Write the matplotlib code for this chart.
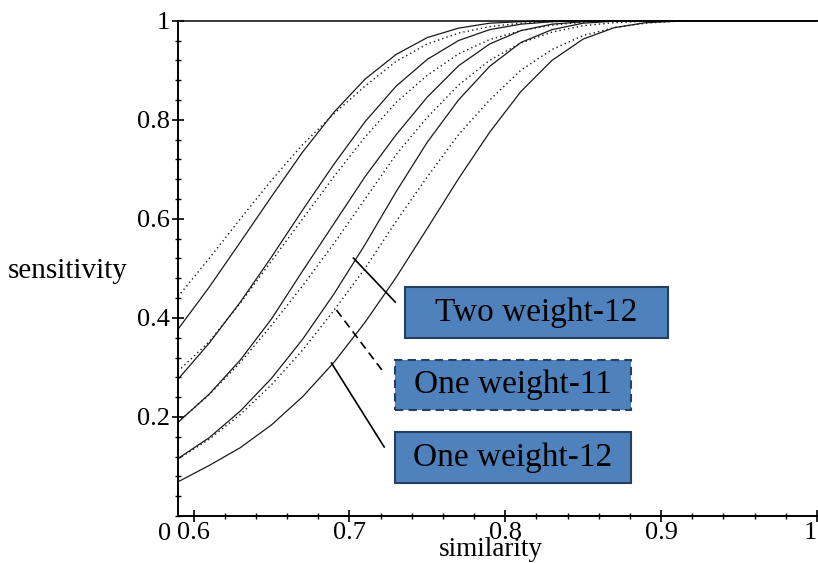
import matplotlib
matplotlib.use("Agg")
import matplotlib.pyplot as plt
from matplotlib.ticker import MultipleLocator
from matplotlib.patches import Rectangle

# valeurs (similarity -> sensitivity)
similarity = [0.59, 0.61, 0.63, 0.65, 0.67, 0.69, 0.71, 0.73, 0.75, 0.77,
              0.79, 0.81, 0.83, 0.85, 0.87, 0.89, 0.91, 0.93, 1.0]

solid_1 = [0.377, 0.462, 0.553, 0.645, 0.735, 0.815, 0.882, 0.932, 0.966, 0.985,
           0.995, 0.998, 1.0, 1.0, 1.0, 1.0, 1.0, 1.0, 1.0]
solid_2 = [0.276, 0.349, 0.432, 0.523, 0.618, 0.710, 0.796, 0.868, 0.922, 0.960,
           0.982, 0.993, 0.998, 1.0, 1.0, 1.0, 1.0, 1.0, 1.0]
solid_3 = [0.189, 0.246, 0.315, 0.398, 0.495, 0.590, 0.685, 0.770, 0.846, 0.909,
           0.953, 0.980, 0.993, 0.998, 1.0, 1.0, 1.0, 1.0, 1.0]
two_weight_12 = [0.116, 0.158, 0.212, 0.278, 0.357, 0.448, 0.548, 0.655, 0.755, 0.840,
                 0.908, 0.956, 0.982, 0.995, 0.999, 1.0, 1.0, 1.0, 1.0]
one_weight_12 = [0.069, 0.102, 0.138, 0.184, 0.241, 0.310, 0.391, 0.482, 0.581, 0.681,
                 0.775, 0.857, 0.920, 0.963, 0.986, 0.996, 0.999, 1.0, 1.0]

dotted_1 = [0.443, 0.520, 0.600, 0.678, 0.750, 0.812, 0.868, 0.918, 0.953, 0.975,
            0.988, 0.995, 0.998, 1.0, 1.0, 1.0, 1.0, 1.0, 1.0]
dotted_2 = [0.292, 0.352, 0.430, 0.515, 0.600, 0.685, 0.765, 0.835, 0.890, 0.933,
            0.962, 0.980, 0.991, 0.997, 1.0, 1.0, 1.0, 1.0, 1.0]
dotted_3 = [0.190, 0.245, 0.310, 0.385, 0.465, 0.550, 0.640, 0.730, 0.805, 0.870,
            0.920, 0.955, 0.977, 0.990, 0.996, 0.999, 1.0, 1.0, 1.0]
one_weight_11 = [0.115, 0.155, 0.205, 0.265, 0.335, 0.415, 0.500, 0.595, 0.685, 0.770,
                 0.840, 0.900, 0.942, 0.970, 0.986, 0.995, 0.999, 1.0, 1.0]

x_ticks = [0.6, 0.7, 0.8, 0.9, 1.0]
x_labels = ["0.6", "0.7", "0.8", "0.9", "1"]
y_ticks = [0.2, 0.4, 0.6, 0.8, 1.0]
y_labels = ["0.2", "0.4", "0.6", "0.8", "1"]

plt.rcParams["font.family"] = ["Liberation Serif", "DejaVu Serif"]

fig = plt.figure(figsize=(8.18, 5.63), dpi=100)
ax = fig.add_axes([178 / 818, 47 / 563, 639 / 818, 495.3 / 563])

for courbe in [solid_1, solid_2, solid_3, two_weight_12, one_weight_12]:
    ax.plot(similarity, courbe, color="#1a1a1a", lw=0.9, clip_on=False)
for courbe in [dotted_1, dotted_2, dotted_3, one_weight_11]:
    ax.plot(similarity, courbe, color="#1a1a1a", lw=1.0, linestyle=(0, (1, 2.2)), clip_on=False)

ax.set_xlim(0.59, 1.0)
ax.set_ylim(0, 1)
ax.spines["right"].set_visible(False)
ax.spines["top"].set_linewidth(1.1)
ax.spines["left"].set_linewidth(1.4)
ax.spines["bottom"].set_linewidth(1.4)

ax.set_xticks(x_ticks)
ax.set_xticklabels(x_labels)
ax.set_yticks(y_ticks)
ax.set_yticklabels(y_labels)
ax.xaxis.set_minor_locator(MultipleLocator(0.02))
ax.yaxis.set_minor_locator(MultipleLocator(0.04))
ax.tick_params(which="major", direction="inout", length=9, width=1.2, labelsize=19, pad=1)
ax.tick_params(axis="x", which="major", pad=0)
ax.tick_params(which="minor", direction="inout", length=5, width=1.0)
ax.tick_params(top=False, right=False)
ax.get_xticklabels()[-1].set_horizontalalignment("right")

ax.annotate("0", xy=(0.59, 0), xytext=(-5, -5), textcoords="offset points",
            ha="right", va="top", fontsize=19)

fig.text(8 / 818, 1 - 271 / 563, "sensitivity", ha="left", va="center", fontsize=21)
fig.text(491 / 818, 0.5 / 563, "similarity", ha="center", va="bottom", fontsize=19.5)

# boites de legende + traits
boites = [
    ("Two weight-12", 0.7357, 0.3592, 0.1685, 0.1030, "solid"),
    ("One weight-11", 0.7294, 0.2139, 0.1512, 0.1009, (0, (4, 2.5))),
    ("One weight-12", 0.7294, 0.0666, 0.1512, 0.1029, "solid"),
]
for texte, x0, y0, w, h, style in boites:
    ax.add_patch(Rectangle((x0, y0), w, h, facecolor="#4f81bd", edgecolor="#243f60",
                           lw=1.5, linestyle=style, clip_on=False, zorder=5))
    ax.text(x0 + w / 2, y0 + h / 2, texte, ha="center", va="center", fontsize=24, zorder=6)

ax.plot([0.7026, 0.7294], [0.5207, 0.4319], color="black", lw=1.2)
ax.plot([0.6917, 0.7223], [0.4157, 0.2886], color="black", lw=1.2, linestyle=(0, (5, 3)))
ax.plot([0.6885, 0.7223], [0.3088, 0.1393], color="black", lw=1.2)

plt.savefig("out.png", dpi=100)
